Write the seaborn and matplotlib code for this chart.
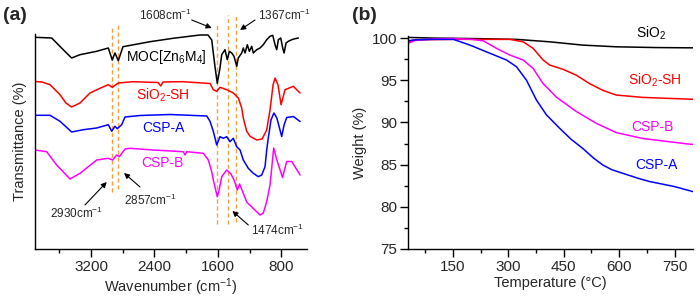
import matplotlib
matplotlib.use("Agg")
import matplotlib.pyplot as plt
import seaborn as sns
import pandas as pd

# ---- FTIR data (a): wavenumber (cm-1) vs transmittance (a.u., stacked) ----
moc_wn = [3906, 3696, 3550, 3444, 3339, 3128, 2982, 2932, 2898, 2856, 2797, 2456, 2166, 1826,
          1725, 1678, 1637, 1608, 1574, 1552, 1511, 1482, 1456, 1426, 1397, 1363, 1343, 1300,
          1280, 1258, 1229, 1204, 1174, 1154, 1111, 1069, 1028, 985, 943, 909, 880, 859, 838,
          808, 783, 766, 741, 712, 669, 628, 586]
moc_t = [212.7, 212, 200.3, 192, 195.3, 198.7, 202, 190, 197, 189.3, 203.3, 208.3, 211.7, 215,
         215, 210, 183.3, 166.7, 182, 195.3, 200.3, 190.3, 198.7, 197, 193.7, 183.7, 192, 197,
         202, 197, 205.3, 198.7, 203.7, 197, 200.3, 202, 205.3, 210.3, 213.7, 214.7, 205.3,
         200.3, 210.3, 212, 202, 197, 207, 208.7, 210.3, 211.3, 212]

sish_wn = [3906, 3818, 3717, 3591, 3516, 3444, 3339, 3213, 3087, 2982, 2932, 2856, 2671, 2355,
           2321, 2292, 2040, 1700, 1658, 1615, 1574, 1489, 1406, 1343, 1300, 1280, 1237, 1195,
           1111, 1044, 985, 943, 905, 880, 842, 804, 754, 649, 565]
sish_t = [168.5, 168, 165.3, 155.3, 147, 143, 147, 157, 161.7, 165.3, 162.7, 167, 168.3, 167.5,
          164, 168, 168.3, 166.5, 160.3, 158.7, 162.7, 160.3, 157, 152, 142, 132, 118.7, 113.7,
          110, 111, 120, 140, 165, 172, 165, 145.3, 160.3, 163.7, 157]

cspa_wn = [3906, 3717, 3591, 3444, 3297, 3128, 2982, 2939, 2898, 2869, 2813, 2771, 2582, 2204,
           1741, 1700, 1658, 1615, 1574, 1532, 1489, 1448, 1406, 1363, 1321, 1280, 1217, 1154,
           1091, 1048, 1006, 985, 965, 931, 894, 857, 796, 766, 733, 649, 565]
cspa_t = [134.7, 134.7, 128.7, 118, 120.3, 122, 125.3, 118.7, 123.7, 121.3, 125.3, 133, 134.5,
          135.5, 134, 128.7, 118.7, 105, 113.3, 111.7, 113.3, 108.3, 111.7, 103.3, 100, 90, 81.7,
          76.7, 73.3, 75, 83.3, 100, 112, 130, 137, 132, 113.5, 125, 132.5, 133.5, 128.5]

cspb_wn = [3906, 3759, 3633, 3465, 3339, 3128, 2982, 2927, 2876, 2843, 2771, 2708, 2418, 2036,
           2015, 1993, 1784, 1721, 1678, 1658, 1608, 1587, 1552, 1489, 1435, 1397, 1355, 1327,
           1280, 1237, 1154, 1069, 1028, 985, 943, 897, 857, 786, 733, 669, 565]
cspb_t = [100, 98.3, 85, 71, 76.7, 90, 91.7, 90, 95, 93.3, 101, 101.7, 100, 98.3, 95, 98.3,
          96.7, 90, 78.3, 70, 53.3, 59, 73.3, 80, 76, 70, 60, 66, 56.7, 48, 41.5, 35, 37, 48.3,
          65, 102, 90, 72.5, 88.5, 88.5, 75]

ftir_names = ["MOC", "SiO2-SH", "CSP-A", "CSP-B"]
ftir_labels = ["MOC[Zn$_6$M$_4$]", "SiO$_2$-SH", "CSP-A", "CSP-B"]
ftir_label_pos = [(2254, 193), (2297, 155), (2292, 122), (2297, 86.7)]

# marked bands: wavenumber, dashed line bottom/top
band_wn = [2930, 2857, 1608, 1474, 1367]
band_lo = [58, 61, 26, 26, 28]
band_hi = [222, 225, 225, 235, 235]

# annotations: text, text position, arrow tail, arrow head
ann_text = ["1608cm$^{-1}$", "1367cm$^{-1}$", "2930cm$^{-1}$", "2857cm$^{-1}$", "1474cm$^{-1}$"]
ann_xy = [(2266, 235), (756, 235), (3381, 36.7), (2446, 50), (848, 20)]
ann_tail = [(1930, 230), (1132, 230), (3276, 45), (2582, 63), (1217, 25)]
ann_head = [(1678, 222), (1321, 220), (3002, 68), (2784, 77), (1418, 39)]

# ---- TGA data (b): temperature (C) vs weight (%) ----
sio2_T = [30, 100, 200, 322, 412, 501, 592, 700, 786, 800]
sio2_W = [100.08, 100.0, 99.95, 99.85, 99.56, 99.17, 98.97, 98.88, 98.85, 98.85]
sish_T = [30, 40, 60, 150, 250, 304, 340, 367, 394, 412, 448, 484, 520, 556, 592, 664, 786, 800]
sish_W = [99.5, 99.75, 99.8, 99.85, 99.85, 99.85, 99.56, 98.78, 97.4, 96.8, 96.3, 95.6, 94.6,
          93.8, 93.25, 92.97, 92.77, 92.75]
cspb_T = [30, 45, 80, 142, 200, 232, 268, 304, 340, 367, 394, 430, 484, 538, 592, 664, 786, 800]
cspb_W = [99.4, 99.7, 99.85, 99.96, 99.85, 99.68, 98.78, 97.99, 97.4, 96.4, 94.6, 93.0, 91.3,
          89.9, 88.8, 88.1, 87.45, 87.4]
cspa_T = [30, 50, 100, 151, 196, 250, 295, 322, 349, 376, 403, 439, 470, 502, 530, 556, 580,
          610, 650, 682, 750, 800]
cspa_W = [99.7, 99.8, 99.85, 99.85, 99.17, 98.2, 97.4, 96.6, 95.0, 92.65, 90.9, 89.3, 88.0,
          86.9, 85.8, 84.95, 84.4, 83.97, 83.4, 83.0, 82.4, 81.8]

tga_labels = ["SiO$_2$", "SiO$_2$-SH", "CSP-B", "CSP-A"]
tga_label_pos = [(687, 100.55), (696, 95.0), (691, 89.5), (700, 84.95)]

colors = ["black", "#ff0000", "#0000ff", "#ff00ff"]
tga_colors = ["black", "#ff0000", "#ff00ff", "#0000ff"]
band_color = "#f7a13c"

sns.set_theme(style="ticks")
plt.rcParams["font.family"] = ["Liberation Sans", "DejaVu Sans"]
plt.rcParams["mathtext.fontset"] = "custom"
plt.rcParams["mathtext.rm"] = "Liberation Sans"
plt.rcParams["mathtext.it"] = "Liberation Sans:italic"

fig = plt.figure(figsize=(7, 3.01), dpi=100)
ax1 = fig.add_axes([35 / 700, 1 - 249 / 301, 272 / 700, 215 / 301])
ax2 = fig.add_axes([408 / 700, 1 - 249 / 301, 285 / 700, 213 / 301])

fs = 10       # curve labels
fs_tick = 11  # tick labels
fs_ax = 10.5  # axis titles

# ---- panel (a) ----
ftir = [(moc_wn, moc_t), (sish_wn, sish_t), (cspa_wn, cspa_t), (cspb_wn, cspb_t)]
frames = []
for name, (wn, t) in zip(ftir_names, ftir):
    frames.append(pd.DataFrame({"wn": wn, "t": t, "sample": name}))
df_ftir = pd.concat(frames)
sns.lineplot(data=df_ftir, x="wn", y="t", hue="sample", palette=colors, hue_order=ftir_names,
             estimator=None, sort=False, linewidth=1.1, legend=False, ax=ax1)

for w, lo, hi in zip(band_wn, band_lo, band_hi):
    ax1.plot([w, w], [lo, hi], color=band_color, linestyle=(0, (3, 2)), linewidth=1.0,
             clip_on=False, zorder=1)

for lab, (x, y), c in zip(ftir_labels, ftir_label_pos, colors):
    ax1.text(x, y, lab, color=c, fontsize=fs, ha="center", va="center")

for txt, xy, tail, head in zip(ann_text, ann_xy, ann_tail, ann_head):
    ax1.text(xy[0], xy[1], txt, fontsize=8.5, ha="center", va="center", clip_on=False)
    ax1.annotate("", xy=head, xytext=tail, annotation_clip=False,
                 arrowprops=dict(arrowstyle="-|>", color="black", lw=0.8,
                                 mutation_scale=8, shrinkA=0, shrinkB=0))

ax1.set_xlim(3906, 477)
ax1.set_ylim(1, 216)
ax1.set_xticks([3200, 2400, 1600, 800])
ax1.set_xticks([3600, 2800, 2000, 1200], minor=True)
ax1.set_yticks([])
ax1.set_xlabel("Wavenumber (cm$^{-1}$)", fontsize=fs_ax, labelpad=1.5)
ax1.set_ylabel("Transmittance (%)", fontsize=fs_ax, labelpad=6)
sns.despine(ax=ax1)

# ---- panel (b) ----
tga = [(sio2_T, sio2_W), (sish_T, sish_W), (cspb_T, cspb_W), (cspa_T, cspa_W)]
for (T, W), c in zip(tga, tga_colors):
    sns.lineplot(x=T, y=W, color=c, linewidth=1.1, ax=ax2, estimator=None)
for lab, (x, y), c in zip(tga_labels, tga_label_pos, tga_colors):
    ax2.text(x, y, lab, color=c, fontsize=fs, ha="center", va="center", clip_on=False)

ax2.set_xlim(28, 800)
ax2.set_ylim(75, 100.25)
ax2.set_xticks([150, 300, 450, 600, 750])
ax2.set_xticks([75, 225, 375, 525, 675], minor=True)
ax2.set_yticks([75, 80, 85, 90, 95, 100])
ax2.set_yticks([77.5, 82.5, 87.5, 92.5, 97.5], minor=True)
ax2.set_xlabel("Temperature (°C)", fontsize=fs_ax, labelpad=1.5)
ax2.set_ylabel("Weight (%)", fontsize=fs_ax, labelpad=3)
sns.despine(ax=ax2)

for ax in (ax1, ax2):
    for s in ("left", "bottom"):
        ax.spines[s].set_linewidth(1.0)
        ax.spines[s].set_color("black")
    ax.tick_params(which="major", length=6, width=1.0, direction="out", labelsize=fs_tick,
                   color="black", pad=2)
    ax.tick_params(which="minor", length=3, width=1.0, direction="out", color="black")
    ax.set_facecolor("white")

fig.text(3 / 700, 1 - 15.5 / 301, "(a)", fontsize=14, fontweight="bold", va="center", ha="left")
fig.text(352 / 700, 1 - 15.5 / 301, "(b)", fontsize=14, fontweight="bold", va="center", ha="left")

fig.savefig("out.png", dpi=100, facecolor="white")
